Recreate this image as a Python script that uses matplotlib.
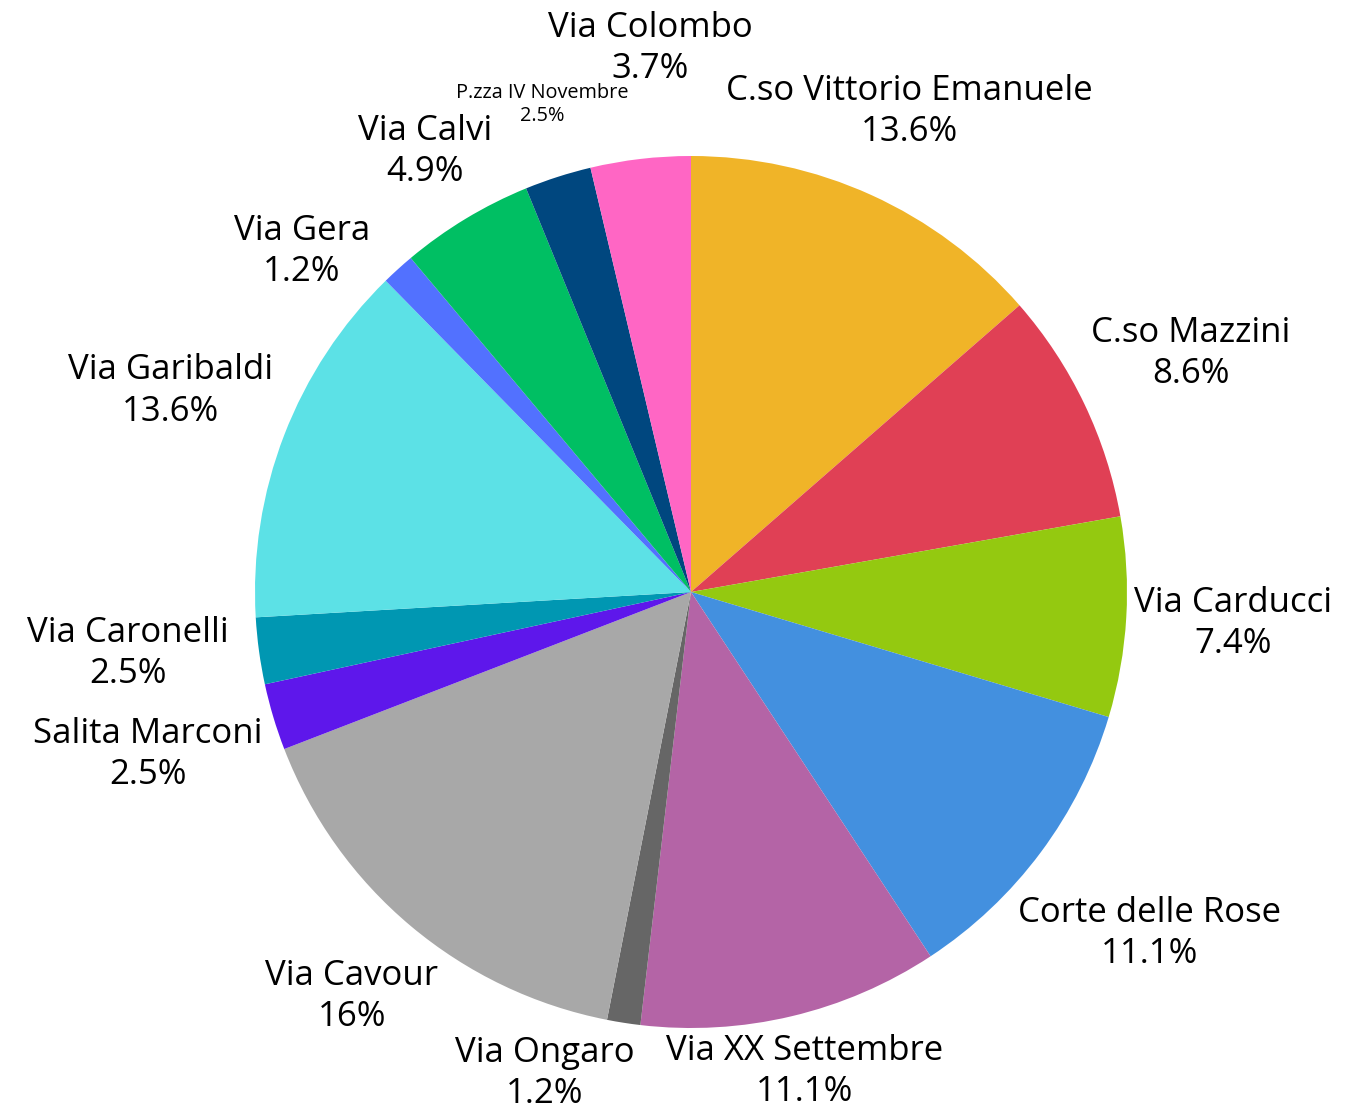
import numpy as np
import matplotlib
matplotlib.use("Agg")
import matplotlib.pyplot as plt

plt.rcParams['font.family'] = ['Open Sans', 'DejaVu Sans']

# data
streets = ["C.so Vittorio Emanuele", "C.so Mazzini", "Via Carducci", "Corte delle Rose",
           "Via XX Settembre", "Via Ongaro", "Via Cavour", "Salita Marconi",
           "Via Caronelli", "Via Garibaldi", "Via Gera", "Via Calvi",
           "P.zza IV Novembre", "Via Colombo"]
counts = [11, 7, 6, 9, 9, 1, 13, 2, 2, 11, 1, 4, 2, 3]
colors = ["#F0B428", "#E04055", "#94C910", "#4390DF", "#B464A6", "#666666", "#A8A8A8",
          "#5E17EB", "#0097B2", "#5CE1E6", "#5271FF", "#00BF63", "#00477F", "#FF66C4"]

# label layout: radial distance (in radii) and angular nudge (deg)
label_r = [1.21, 1.27, 1.245, 1.31, 1.13, 1.155, 1.21, 1.30, 1.30, 1.28, 1.186, 1.18, 1.17, 1.25]
label_nudge = [0, 0, 0, 0, 0, -8, 0, 0, -1.5, 0, 6.6, 0, -0.8, -2.4]
small = {"P.zza IV Novembre"}

W, H = 1364, 1114
cx, cy, R = 691, 592, 436

fig = plt.figure(figsize=(W / 100, H / 100), dpi=100)
ax = fig.add_axes([0, 0, 1, 1])
ax.axis('off')

wedges, _ = ax.pie(counts, colors=colors, startangle=90, counterclock=False,
                   radius=1, center=(0, 0), wedgeprops=dict(linewidth=0))
ax.set_aspect('equal')
ax.set_xlim(-cx / R, (W - cx) / R)
ax.set_ylim(-(H - cy) / R, cy / R)

total = sum(counts)
for w, name, n, r, nd in zip(wedges, streets, counts, label_r, label_nudge):
    pct = 100 * n / total
    txt = f"{pct:.1f}".rstrip('0').rstrip('.') + "%"
    theta = np.deg2rad((w.theta1 + w.theta2) / 2 + nd)
    x, y = r * np.cos(theta), r * np.sin(theta)
    fs = 14.3 if name in small else 25
    ax.text(x, y, f"{name}\n{txt}", ha='center', va='center', fontsize=fs,
            linespacing=1.2 if name in small else 1.27, color='black')

fig.savefig("out.png", dpi=100)
